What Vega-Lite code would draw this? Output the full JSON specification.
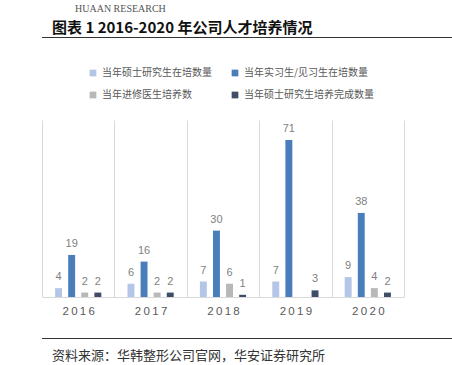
{
  "$schema": "https://vega.github.io/schema/vega-lite/v6.json",
  "padding": {"left": 15, "top": 3, "right": 0, "bottom": 0},
  "background": "white",
  "config": {"font": "Liberation Sans"},
  "title": {"text": "HUAAN RESEARCH", "anchor": "start", "dx": 60, "font": "Liberation Serif", "fontSize": 10, "fontWeight": "normal", "color": "#555555", "offset": 7},
  "spacing": 15,
  "resolve": {"legend": {"color": "independent"}},
  "vconcat": [
    {
      "data": {"values": [{}]},
      "width": 437,
      "height": 1,
      "view": {"fill": "#333333", "stroke": null},
      "mark": {"type": "text", "text": ""},
      "title": {"text": "图表 1 2016-2020 年公司人才培养情况", "anchor": "start", "dx": 10, "fontSize": 15, "font": "Noto Sans CJK SC", "fontWeight": "bold", "color": "#111111", "offset": -4}
    },
    {
      "data": {"values": [
        {"year": "2016", "series": "当年硕士研究生在培数量", "value": 4},
        {"year": "2016", "series": "当年实习生/见习生在培数量", "value": 19},
        {"year": "2016", "series": "当年进修医生培养数", "value": 2},
        {"year": "2016", "series": "当年硕士研究生培养完成数量", "value": 2},
        {"year": "2017", "series": "当年硕士研究生在培数量", "value": 6},
        {"year": "2017", "series": "当年实习生/见习生在培数量", "value": 16},
        {"year": "2017", "series": "当年进修医生培养数", "value": 2},
        {"year": "2017", "series": "当年硕士研究生培养完成数量", "value": 2},
        {"year": "2018", "series": "当年硕士研究生在培数量", "value": 7},
        {"year": "2018", "series": "当年实习生/见习生在培数量", "value": 30},
        {"year": "2018", "series": "当年进修医生培养数", "value": 6},
        {"year": "2018", "series": "当年硕士研究生培养完成数量", "value": 1},
        {"year": "2019", "series": "当年硕士研究生在培数量", "value": 7},
        {"year": "2019", "series": "当年实习生/见习生在培数量", "value": 71},
        {"year": "2019", "series": "当年硕士研究生培养完成数量", "value": 3},
        {"year": "2020", "series": "当年硕士研究生在培数量", "value": 9},
        {"year": "2020", "series": "当年实习生/见习生在培数量", "value": 38},
        {"year": "2020", "series": "当年进修医生培养数", "value": 4},
        {"year": "2020", "series": "当年硕士研究生培养完成数量", "value": 2}
      ]},
      "width": 362,
      "height": 177,
      "view": {"stroke": null},
      "encoding": {
        "x": {"field": "year", "type": "nominal", "scale": {"paddingInner": 0, "paddingOuter": 0},
          "axis": {"title": null, "tickBand": "extent", "grid": true, "gridColor": "#d9d9d9", "ticks": false, "domainColor": "#d9d9d9", "labelAngle": 0, "labelFontSize": 11.5, "labelColor": "#595959", "labelPadding": 8, "labelExpr": "join(split(datum.label,''),'\u2009')"}},
        "xOffset": {"field": "series", "type": "nominal", "sort": ["当年硕士研究生在培数量", "当年实习生/见习生在培数量", "当年进修医生培养数", "当年硕士研究生培养完成数量"], "scale": {"paddingInner": 0.47, "paddingOuter": 1.18}},
        "y": {"field": "value", "type": "quantitative", "scale": {"domain": [0, 80]},
          "axis": {"title": null, "labels": false, "ticks": false, "domain": false, "grid": false, "minExtent": 27}}
      },
      "layer": [
        {
          "mark": {"type": "bar"},
          "encoding": {
            "color": {"field": "series", "type": "nominal",
              "scale": {"domain": ["当年硕士研究生在培数量", "当年实习生/见习生在培数量", "当年进修医生培养数", "当年硕士研究生培养完成数量"], "range": ["#b4c6e7", "#4a7ebb", "#b8b8b8", "#3f4e66"]},
              "legend": {"title": null, "orient": "none", "legendX": 36, "legendY": -62, "padding": 10, "direction": "horizontal", "columns": 2, "symbolType": "square", "symbolSize": 45, "labelFontSize": 10, "labelFont": "Noto Sans CJK SC", "labelColor": "#595959", "rowPadding": 12, "columnPadding": 18}}
          }
        },
        {
          "mark": {"type": "text", "baseline": "bottom", "dy": -6, "fontSize": 11, "color": "#7f7f7f"},
          "encoding": {"text": {"field": "value", "type": "quantitative"}}
        }
      ]
    },
    {
      "data": {"values": [{}]},
      "width": 437,
      "height": 1,
      "view": {"fill": "#333333", "stroke": null},
      "mark": {"type": "text", "text": ""},
      "title": {"text": "资料来源：华韩整形公司官网，华安证券研究所", "orient": "bottom", "anchor": "start", "dx": 10, "fontSize": 13, "font": "Noto Sans CJK SC", "fontWeight": "normal", "color": "#333333", "offset": 6}
    }
  ]
}
